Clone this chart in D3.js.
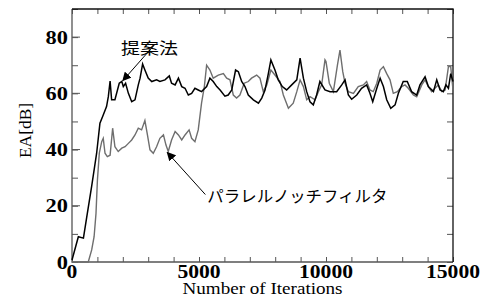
<!DOCTYPE html>
<html>
<head>
<meta charset="utf-8">
<script src="https://cdn.jsdelivr.net/npm/d3@7"></script>
<style>
  body { margin: 0; background: #fff; }
  svg { display: block; }
  .tick-label { font-family: "Liberation Serif", "DejaVu Serif", serif; font-weight: bold; font-size: 18px; fill: #000; }
  .axis-title { font-family: "Liberation Serif", "DejaVu Serif", serif; font-size: 16px; fill: #000; }
  .jp { font-family: "Noto Sans CJK JP", sans-serif; font-size: 16px; fill: #000; }
</style>
</head>
<body>
<script>
// proposed method (black)
const proposedIter = [0, 250, 450, 580, 775, 970, 1100, 1230, 1360, 1430, 1500, 1560, 1690, 1860, 1960, 2020, 2110, 2220, 2350, 2480,
  2610, 2680, 2780, 2870, 3000, 3140, 3330, 3460, 3660, 3830, 3920, 4060, 4190, 4320, 4450, 4580, 4710, 4840, 4970, 5100,
  5300, 5430, 5560, 5700, 5830, 6020, 6150, 6290, 6440, 6550, 6680, 6810, 6940, 7140, 7340, 7470, 7600, 7730, 7830, 7990,
  8120, 8280, 8450, 8650, 8850, 8980, 9110, 9240, 9370, 9500, 9630, 9760, 9960, 10160, 10420, 10620, 10750, 10880, 11010, 11210,
  11400, 11600, 11730, 11840, 12000, 12130, 12260, 12390, 12550, 12720, 12850, 13040, 13200, 13370, 13570, 13700, 13900, 14030, 14230, 14360,
  14490, 14620, 14720, 14820, 14910, 15000];
const proposedEA = [0.7, 9, 8.5, 16, 27, 38.7, 49.4, 52.3, 55.3, 58.8, 64.4, 57.7, 57.7, 63.6, 64.2, 62.4, 63.6, 60, 57, 57.7,
  63, 65.4, 70.4, 68.3, 65.4, 64.2, 64.8, 64.2, 64.8, 66.2, 63.6, 63, 65.4, 62.4, 61.8, 59.4, 60, 61.8, 61.2, 60.6,
  62.4, 65.4, 64.2, 62.4, 61.2, 59, 59.4, 61.2, 68.3, 67.7, 64.2, 62.4, 59.4, 57.7, 56.5, 58.3, 61.2, 67, 71.9, 68.3,
  64.8, 62.4, 61.2, 63, 64.8, 72.5, 65.4, 60.6, 57, 55.9, 59.4, 64.2, 61.2, 60.6, 60.6, 63, 64.8, 59.4, 57.9, 59.4,
  61.8, 63, 60, 57, 61.8, 65.4, 62.4, 57.7, 54.7, 55.9, 60, 64.2, 64.2, 60.6, 59.4, 63, 65.9, 62.4, 60.6, 64.8,
  61.2, 60.6, 63, 61.8, 67, 64.2];

// parallel notch filter (gray)
const notchIter = [0, 640, 775, 870, 945, 1000, 1075, 1170, 1230, 1300, 1390, 1500, 1600, 1690, 1820, 1960, 2090, 2220, 2350, 2480,
  2610, 2740, 2870, 2970, 3070, 3200, 3330, 3460, 3600, 3700, 3790, 3920, 4060, 4190, 4320, 4450, 4610, 4710, 4840, 4970,
  5100, 5210, 5300, 5430, 5560, 5760, 5960, 6090, 6220, 6350, 6480, 6610, 6780, 6940, 7070, 7270, 7400, 7530, 7670, 7830,
  7990, 8190, 8320, 8520, 8710, 8850, 8980, 9110, 9240, 9370, 9570, 9700, 9830, 9960, 10000, 10130, 10290, 10450, 10550, 10660,
  10750, 10880, 11080, 11270, 11470, 11600, 11730, 11860, 12000, 12130, 12260, 12390, 12520, 12650, 12810, 12980, 13110, 13240, 13440, 13570,
  13770, 13900, 14030, 14160, 14290, 14420, 14560, 14690, 14820, 14910, 15000];
const notchEA = [0, 0, 4.3, 9, 17.3, 29, 38.7, 42.8, 44, 38.7, 37.5, 38, 47.6, 41, 39.3, 40.5, 41, 42.2, 43.4, 45.2,
  47.6, 47, 50.3, 45.2, 39.9, 38.7, 41, 44, 45.2, 41.6, 39.3, 43.4, 46.4, 45.2, 43.4, 45.2, 47, 44, 42.8, 47,
  56.5, 62.4, 70, 68.3, 65.4, 66.5, 67, 65.4, 64.8, 59.4, 58.3, 59.4, 63.6, 64.2, 65.4, 66.5, 65.4, 60.6, 63, 68.3,
  66.5, 64.2, 59.4, 54.7, 56.5, 60.6, 64.8, 62.4, 57.7, 58.8, 57.7, 60.6, 63, 71.9, 71.3, 63.6, 60.6, 70, 75.4, 67.7,
  63.6, 60.6, 60, 62.4, 63, 64.2, 61.2, 60.6, 63.6, 68.3, 69.5, 67, 64.8, 60, 60.6, 62.4, 63, 61.8, 59.4, 58.8,
  63, 64.8, 62.4, 60.6, 61.8, 63, 60.6, 61.2, 69.5, 69.5, 61.2];

const xTicks = [0, 5000, 10000, 15000];
const yTicks = [0, 20, 40, 60, 80];
const xLabel = "Number of Iterations";
const yLabel = "EA[dB]";
const proposedName = "提案法";
const notchName = "パラレルノッチフィルタ";

const W = 482, H = 305;
const margin = {top: 9, right: 29, bottom: 43, left: 72};
const w = W - margin.left - margin.right;
const h = H - margin.top - margin.bottom;

const svg = d3.select(document.body).append('svg')
  .attr('width', W)
  .attr('height', H);

const defs = svg.append('defs');
defs.append('marker')
  .attr('id', 'arrow')
  .attr('viewBox', '0 0 10 10')
  .attr('refX', 9).attr('refY', 5)
  .attr('markerWidth', 9).attr('markerHeight', 9)
  .attr('markerUnits', 'userSpaceOnUse')
  .attr('orient', 'auto')
  .append('path')
  .attr('d', 'M0,0L10,5L0,10z')
  .attr('fill', '#000');

const g = svg.append('g')
  .attr('transform', `translate(${margin.left},${margin.top})`);

const x = d3.scaleLinear().domain([0, 15000]).range([0, w]);
const y = d3.scaleLinear().domain([0, 90]).range([h, 0]);

const minorX = d3.range(0, 15001, 1000);
const minorY = d3.range(0, 91, 10);

// inward ticks on all four sides
const axisColor = '#555';
g.append('g').attr('transform', `translate(0,${h})`)
  .call(d3.axisBottom(x).tickValues(minorX).tickSizeInner(-5).tickSizeOuter(0).tickFormat(''))
  .call(s => s.selectAll('line').attr('stroke', axisColor));
g.append('g')
  .call(d3.axisTop(x).tickValues(minorX).tickSizeInner(-5).tickSizeOuter(0).tickFormat(''))
  .call(s => s.selectAll('line').attr('stroke', axisColor));
g.append('g')
  .call(d3.axisLeft(y).tickValues(minorY).tickSizeInner(-6).tickSizeOuter(0).tickFormat(''))
  .call(s => s.selectAll('line').attr('stroke', axisColor));
g.append('g').attr('transform', `translate(${w},0)`)
  .call(d3.axisRight(y).tickValues(minorY).tickSizeInner(-6).tickSizeOuter(0).tickFormat(''))
  .call(s => s.selectAll('line').attr('stroke', axisColor));
// major y ticks a bit longer
g.append('g')
  .selectAll('line').data(yTicks.slice(1)).enter().append('line')
  .attr('x1', 0).attr('x2', 8)
  .attr('y1', d => y(d)).attr('y2', d => y(d))
  .attr('stroke', axisColor);

g.selectAll('.domain').remove();
// frame: left/bottom gray, top/right darker
g.append('path')
  .attr('d', `M0,0V${h}H${w}`)
  .attr('fill', 'none')
  .attr('stroke', '#555')
  .attr('stroke-width', 1.3);
g.append('path')
  .attr('d', `M0,0H${w}V${h}`)
  .attr('fill', 'none')
  .attr('stroke', '#111')
  .attr('stroke-width', 1.3);

// tick labels, glyphs stretched a little wider like the original
g.append('g').selectAll('text').data(xTicks).enter().append('text')
  .attr('class', 'tick-label')
  .attr('x', d => x(d))
  .attr('y', h + 16)
  .attr('text-anchor', 'middle')
  .attr('textLength', d => String(d).length * 10.8)
  .attr('lengthAdjust', 'spacingAndGlyphs')
  .text(d => d);
g.append('g').selectAll('text').data(yTicks).enter().append('text')
  .attr('class', 'tick-label')
  .attr('x', -4)
  .attr('y', d => y(d) + 6.5)
  .attr('text-anchor', 'end')
  .attr('textLength', d => String(d).length * 11.2)
  .attr('lengthAdjust', 'spacingAndGlyphs')
  .text(d => d);

g.append('text')
  .attr('class', 'axis-title')
  .attr('x', w / 2)
  .attr('y', h + 32)
  .attr('text-anchor', 'middle')
  .attr('textLength', 160)
  .attr('lengthAdjust', 'spacingAndGlyphs')
  .text(xLabel);
g.append('text')
  .attr('class', 'axis-title')
  .attr('transform', `translate(${-41},${h / 2 - 5}) rotate(-90)`)
  .attr('text-anchor', 'middle')
  .attr('textLength', 55)
  .attr('lengthAdjust', 'spacingAndGlyphs')
  .text(yLabel);

const line = d3.line()
  .x(d => x(d[0]))
  .y(d => y(d[1]));

g.append('path')
  .datum(d3.zip(notchIter, notchEA))
  .attr('d', line)
  .attr('fill', 'none')
  .attr('stroke', '#6e6e6e')
  .attr('stroke-width', 1.4);

g.append('path')
  .datum(d3.zip(proposedIter, proposedEA))
  .attr('d', line)
  .attr('fill', 'none')
  .attr('stroke', '#000')
  .attr('stroke-width', 1.5);

// annotations
g.append('text')
  .attr('class', 'jp')
  .attr('x', x(3050))
  .attr('y', y(74))
  .attr('text-anchor', 'middle')
  .attr('textLength', 57)
  .attr('lengthAdjust', 'spacingAndGlyphs')
  .text(proposedName);
g.append('line')
  .attr('x1', x(3270)).attr('y1', y(77.5))
  .attr('x2', x(2000)).attr('y2', y(64.5))
  .attr('stroke', '#000')
  .attr('marker-end', 'url(#arrow)');

g.append('text')
  .attr('class', 'jp')
  .attr('x', x(5330))
  .attr('y', y(21.5))
  .attr('textLength', 180)
  .attr('lengthAdjust', 'spacingAndGlyphs')
  .text(notchName);
g.append('line')
  .attr('x1', x(5250)).attr('y1', y(24))
  .attr('x2', x(3750)).attr('y2', y(39))
  .attr('stroke', '#000')
  .attr('marker-end', 'url(#arrow)');
</script>
</body>
</html>
